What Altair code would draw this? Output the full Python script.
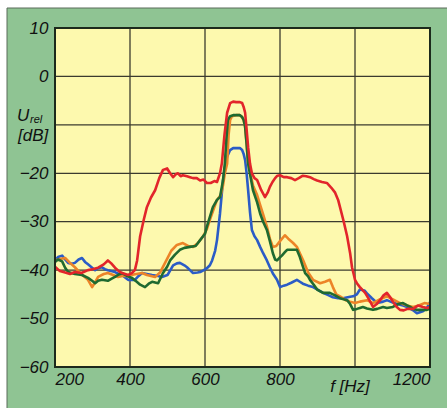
import altair as alt
import pandas as pd

# ---------------- data ----------------
red_f = [200,213,227,240,253,270,288,300,315,330,341,350,360,370,379,395,405,413,419,427,437,445,456,467,478,488,499,507,515,522,528,535,541,552,560,568,578,587,596,605,615,625,632,640,645,652,659,667,675,683,693,699,703,707,711,715,720,725,732,739,750,760,767,773,780,787,793,800,810,819,830,840,850,861,870,880,890,899,912,925,937,947,955,960,970,979,987,992,997,1000,1005,1013,1021,1027,1037,1048,1058,1067,1076,1085,1093,1101,1110,1120,1130,1140,1155,1168,1181,1192,1200]
red_db = [-39.3,-40.2,-40.5,-40.8,-40.4,-40.6,-40,-39.8,-39.5,-38.8,-38,-38.6,-39.5,-40.2,-40.6,-41,-40.6,-40,-38,-33,-29.5,-27,-25,-23.5,-21,-19.3,-19,-20,-20.8,-20.2,-20,-20.6,-20.4,-20.6,-20.8,-21,-21,-21.5,-21.3,-22,-22,-21.6,-21.8,-20,-17.9,-12,-7.5,-5.5,-5.2,-5.3,-5.3,-5.5,-6.3,-7.5,-11,-14.6,-18,-20,-21,-21.4,-23.5,-24.9,-24,-22.8,-21.8,-21,-20.5,-20.4,-20.8,-20.8,-21,-21.4,-21,-20.5,-20.6,-20.8,-21.2,-21.5,-21.8,-22,-23,-24,-25.5,-27,-30,-33,-36.5,-39.4,-41,-42,-42.7,-43.5,-44.2,-44.7,-46,-47.6,-47,-46.2,-45.2,-44.7,-45.5,-46.5,-47.5,-48.2,-48.3,-48,-48,-47.3,-47.6,-47.8,-47.6]

green_f = [200,208,219,227,235,253,272,288,299,307,315,325,341,350,360,370,379,392,405,418,427,440,450,459,475,488,499,507,520,533,545,560,575,587,600,605,613,621,632,640,648,653,657,661,667,675,693,699,703,707,711,715,722,728,739,747,755,765,773,781,787,792,798,805,813,819,832,845,853,860,867,875,880,890,899,915,925,933,947,960,979,987,995,1005,1013,1021,1032,1048,1059,1075,1085,1101,1115,1128,1139,1147,1155,1165,1181,1192,1200]
green_db = [-38.3,-37.8,-38.2,-39.5,-40.4,-40.8,-41,-41.6,-42.2,-42.7,-42.2,-42,-42.2,-41.8,-41.4,-40.9,-40.6,-41.2,-41.6,-42.4,-43,-43.5,-42.8,-42.4,-42.7,-40.6,-39.3,-38,-36.8,-35.8,-35.4,-35.2,-35,-33.8,-32.5,-31,-29,-27,-25.5,-24.9,-21.5,-17.9,-13,-9,-8.2,-8,-8,-8.4,-9,-10.4,-14,-18,-21,-23.5,-26,-28.3,-30,-31.7,-34,-36.5,-37.8,-38,-37.5,-37,-36.3,-35.8,-35.8,-35.8,-37.3,-39,-40.6,-41.3,-42,-43,-44,-44.7,-44.7,-44.7,-45.2,-45.8,-46.2,-47,-48.2,-48,-47.8,-47.6,-47.9,-48.2,-48,-47.6,-47.8,-47.6,-47,-46.8,-47.3,-47.6,-48,-48.2,-48.2,-48.2,-48]

orange_f = [200,213,227,240,253,270,288,299,307,315,330,341,355,368,380,395,410,432,445,467,480,490,500,510,525,541,555,568,580,595,605,613,625,632,642,648,653,659,663,667,672,683,693,699,703,707,711,715,722,728,739,747,755,765,773,781,790,800,813,822,835,845,853,862,875,888,907,920,933,941,950,960,975,987,1000,1013,1032,1048,1067,1085,1100,1120,1139,1155,1170,1185,1200]
orange_db = [-38,-37.7,-37.5,-38.5,-39.4,-40.8,-42,-43.5,-42.5,-41.4,-40.8,-40.6,-41,-41.4,-41.2,-41.2,-40.9,-40.6,-41,-41.4,-40.5,-39,-37.5,-36,-34.8,-34.4,-35,-35.2,-34.5,-33,-31.5,-29.6,-27,-25.5,-24.5,-22.5,-20,-18,-12,-9,-8.2,-8,-8,-8.4,-9,-10.4,-14,-18,-20.5,-22.5,-24.5,-26.5,-28.5,-31,-33.5,-35.2,-35,-34,-32.8,-33.5,-34.4,-35.2,-36.5,-38,-40.5,-42,-42.7,-42.4,-42,-43.5,-45,-45.4,-46.2,-46.5,-46.8,-46.5,-46.2,-46.8,-46,-45.4,-46,-46.8,-47.3,-47.6,-47.3,-46.8,-47]

blue_f = [200,208,219,227,235,245,253,263,272,280,288,299,307,315,325,333,341,350,360,370,379,387,395,405,413,423,432,445,459,475,485,500,515,525,533,545,552,560,568,580,587,597,605,613,619,627,632,640,648,655,659,667,675,693,699,703,707,711,715,720,725,732,739,747,755,765,773,781,792,800,810,819,830,845,853,861,875,888,900,915,930,941,955,968,987,995,1005,1013,1025,1032,1045,1059,1075,1085,1101,1112,1128,1139,1155,1165,1181,1192,1200]
blue_db = [-38,-37.3,-37,-37.8,-38.5,-38.7,-38.5,-37.8,-37.5,-38.3,-38.8,-39.5,-40,-39.6,-39.4,-39.8,-40,-40.2,-40.4,-40.8,-41,-41.5,-42,-42,-42,-41.2,-40.6,-40.8,-41,-41.2,-41.4,-41,-39,-38.6,-38.5,-39,-39.4,-40,-40.6,-40.5,-40.4,-40,-39.6,-39,-38,-36,-33.8,-28.3,-21.4,-18,-16.6,-15.2,-14.8,-14.8,-15.2,-16,-17.3,-20,-23.5,-28,-31.7,-33,-33.8,-35.2,-36.5,-38,-39.4,-40.7,-42,-43.5,-43.2,-43,-42.6,-42,-42.4,-42.8,-43.2,-43.5,-44,-44.7,-45.2,-45.6,-45.8,-45.8,-45.5,-45.4,-45,-44,-44.2,-44.8,-45.8,-46.8,-46.5,-46.2,-46.7,-47,-47.3,-47.6,-48.3,-48.9,-48.5,-47.8,-46.6]

x_ticks = [200, 400, 600, 800, 1000, 1200]
y_ticks = [10, 0, -10, -20, -30, -40, -50, -60]
x_domain = [200, 1200]
y_domain = [-60, 10]

# ---------------- styling ----------------
W, H = 375, 339
FONT = "Liberation Sans"
GREEN_BG = "#8fc493"
YELLOW = "#fdf9ae"
GRID = "#3b3b2e"

xs = alt.Scale(domain=x_domain, nice=False, zero=False)
ys = alt.Scale(domain=y_domain, nice=False, zero=False)

x_axis = alt.Axis(values=x_ticks, grid=False, domain=False, ticks=False, title=None,
                  format="d", labelFlush=True, labelPadding=4, labelFont=FONT, labelFontSize=17,
                  labelFontStyle="italic", labelColor="#111", zindex=2,
                  labelExpr="datum.value == 1000 ? '' : datum.label")
y_axis = alt.Axis(values=y_ticks, grid=False, domain=False, ticks=False, title=None,
                  labelPadding=7, labelFont=FONT, labelFontSize=17,
                  labelFontStyle="italic", labelColor="#111", zindex=2,
                  labelExpr="datum.value == -10 ? '' : datum.label")

one = pd.DataFrame({"x0": [x_domain[0]], "x1": [x_domain[1]], "y0": [y_domain[0]], "y1": [y_domain[1]]})

# green panel behind everything (decorative)
panel = alt.Chart(one).mark_rect(fill=GREEN_BG, stroke="#5a6a5a", strokeWidth=1).encode(
    x=alt.value(-48), x2=alt.value(W + 30), y=alt.value(-20), y2=alt.value(H + 60))

plot_bg = alt.Chart(one).mark_rect(fill=YELLOW).encode(
    x=alt.X("x0:Q", scale=xs, axis=x_axis), x2="x1:Q",
    y=alt.Y("y0:Q", scale=ys, axis=y_axis), y2="y1:Q")

vgrid = alt.Chart(pd.DataFrame({"f": x_ticks})).mark_rule(color=GRID, strokeWidth=1.3).encode(
    x=alt.X("f:Q", scale=xs))
hgrid = alt.Chart(pd.DataFrame({"v": y_ticks})).mark_rule(color=GRID, strokeWidth=1.3).encode(
    y=alt.Y("v:Q", scale=ys))

def line(fs, dbs, color):
    df = pd.DataFrame({"f": fs, "db": dbs})
    return alt.Chart(df).mark_line(color=color, strokeWidth=2.6, strokeJoin="round").encode(
        x=alt.X("f:Q", scale=xs), y=alt.Y("db:Q", scale=ys))

blue = line(blue_f, blue_db, "#2b5cc6")
orange = line(orange_f, orange_db, "#ec8428")
green = line(green_f, green_db, "#1f6a30")
red = line(red_f, red_db, "#e2252b")

frame = alt.Chart(one).mark_rect(fill=None, stroke="#1c2a1c", strokeWidth=2).encode(
    x=alt.X("x0:Q", scale=xs), x2="x1:Q", y=alt.Y("y0:Q", scale=ys), y2="y1:Q")

def label(text, x, y, size=17, align="left"):
    return alt.Chart(pd.DataFrame({"t": [text]})).mark_text(
        font=FONT, fontSize=size, fontStyle="italic", color="#111", align=align,
        baseline="alphabetic").encode(text="t:N", x=alt.value(x), y=alt.value(y))

u_lbl = label("U", -38, 93)
rel_lbl = label("rel", -25, 95, size=11)
db_lbl = label("[dB]", -37, 113)
f_lbl = label("f [Hz]", 295, 364, align="center")

chart = alt.layer(panel, plot_bg, vgrid, hgrid, blue, orange, green, red, frame,
                  u_lbl, rel_lbl, db_lbl, f_lbl).properties(
    width=W, height=H,
    padding={"left": 55, "top": 28, "right": 17, "bottom": 41},
    autosize=alt.AutoSizeParams(type="none"),
    background="white",
).configure_view(stroke=None)

chart.save("out.html", embed_options={"renderer": "svg", "actions": False})
